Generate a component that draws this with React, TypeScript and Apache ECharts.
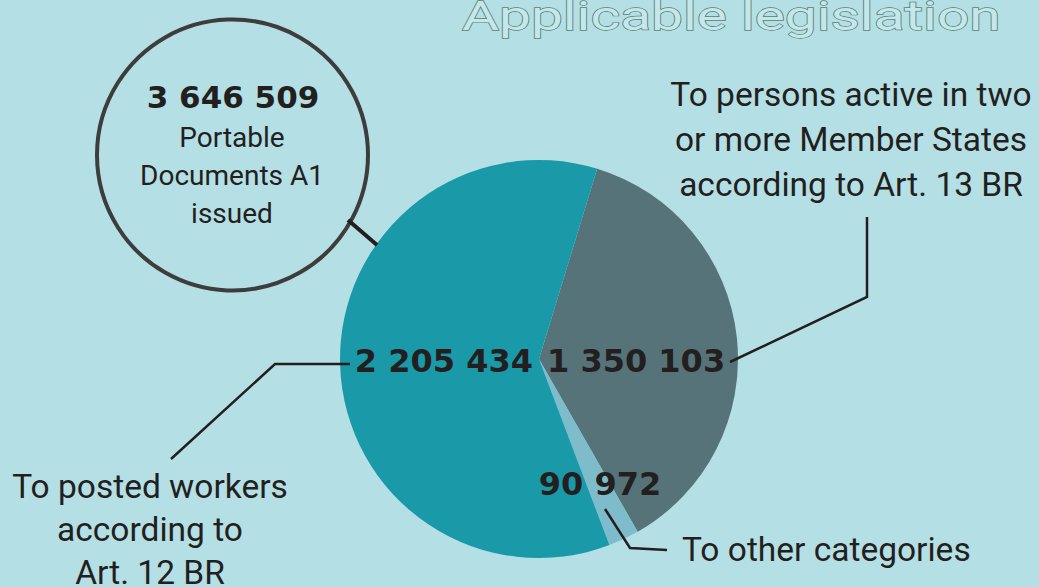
import React, { useEffect, useRef } from "react";
import * as echarts from "echarts";

const categories = [
  "To persons active in two or more Member States according to Art. 13 BR",
  "To other categories",
  "To posted workers according to Art. 12 BR",
];
const values = [1350103, 90972, 2205434];
const sliceColors = ["#56737a", "#7fbccb", "#1a9aa9"];
const totalLabel = ["Portable", "Documents A1", "issued"];
const title = "Applicable legislation";
const rightNote = ["To persons active in two", "or more Member States", "according to Art. 13 BR"];
const leftNote = ["To posted workers", "according to", "Art. 12 BR"];
const bottomNote = ["To other categories"];

const fmt = (n: number) => n.toString().replace(/\B(?=(\d{3})+(?!\d))/g, " ");

const FONT = "Roboto, 'Noto Sans', sans-serif";
const BOLD_FONT = "'DejaVu Sans', Roboto, sans-serif";
const INK = "#231f20";

export default function App() {
  const ref = useRef<HTMLDivElement>(null);
  useEffect(() => {
    if (!ref.current) return;
    const chart = echarts.init(ref.current, null, { renderer: "svg" });
    const total = values.reduce((a, b) => a + b, 0);
    const txt = (text: string, x: number, y: number, size: number, weight: any, align: any, family = FONT) => ({
      type: "text",
      z: 100,
      x,
      y,
      style: {
        text,
        fontFamily: family,
        fontSize: size,
        fontWeight: weight,
        fill: INK,
        align,
        verticalAlign: "middle",
      },
    });
    const lines = (arr: string[], x: number, y0: number, dy: number, size: number) =>
      arr.map((t, i) => txt(t, x, y0 + i * dy, size, "normal", "center"));
    const pl = (points: number[][], w = 2.5) => ({
      type: "polyline",
      z: 100,
      shape: { points },
      style: { stroke: INK, lineWidth: w, fill: null },
    });
    chart.setOption({
      animation: false,
      backgroundColor: "#b3dfe5",
      series: [
        {
          type: "pie",
          center: [539, 359],
          radius: 199,
          startAngle: 73,
          clockwise: true,
          label: { show: false },
          labelLine: { show: false },
          emphasis: { disabled: true },
          itemStyle: { borderWidth: 0 },
          data: values.map((v, i) => ({ name: categories[i], value: v, itemStyle: { color: sliceColors[i] } })),
        },
      ],
      graphic: [
        {
          type: "text",
          z: 100,
          x: 462,
          y: 16,
          scaleX: 1.42,
          style: {
            text: title,
            fontFamily: FONT,
            fontSize: 40,
            fontWeight: "normal",
            fill: "#c4e7ec",
            stroke: "#5d7d72",
            lineWidth: 1.3,
            align: "left",
            verticalAlign: "middle",
          },
        },
        { type: "circle", z: 90, shape: { cx: 232.5, cy: 155, r: 135.5 }, style: { fill: "#b3dfe5", stroke: "#3d3d3d", lineWidth: 4 } },
        pl([[348, 220], [377, 245]], 4),
        txt(fmt(total), 233, 97, 31, "bold", "center", BOLD_FONT),
        ...lines(totalLabel, 232, 137, 38, 28),
        txt(fmt(values[2]), 533, 361, 32, "bold", "right", BOLD_FONT),
        txt(fmt(values[0]), 547, 361, 32, "bold", "left", BOLD_FONT),
        txt(fmt(values[1]), 600, 484, 32, "bold", "center", BOLD_FONT),
        ...lines(rightNote, 851, 94, 45, 33.5),
        ...lines(leftNote, 150, 486, 43, 33.5),
        txt(bottomNote[0], 682, 549, 33.5, "normal", "left"),
        pl([[350, 364], [275, 364], [171, 459]]),
        pl([[730, 362], [867, 297], [867, 217]]),
        pl([[605, 509], [630, 548], [667, 550]]),
      ],
    });
    return () => chart.dispose();
  }, []);
  return <div ref={ref} style={{ position: "fixed", left: 0, top: 0, width: 1039, height: 587 }} />;
}
